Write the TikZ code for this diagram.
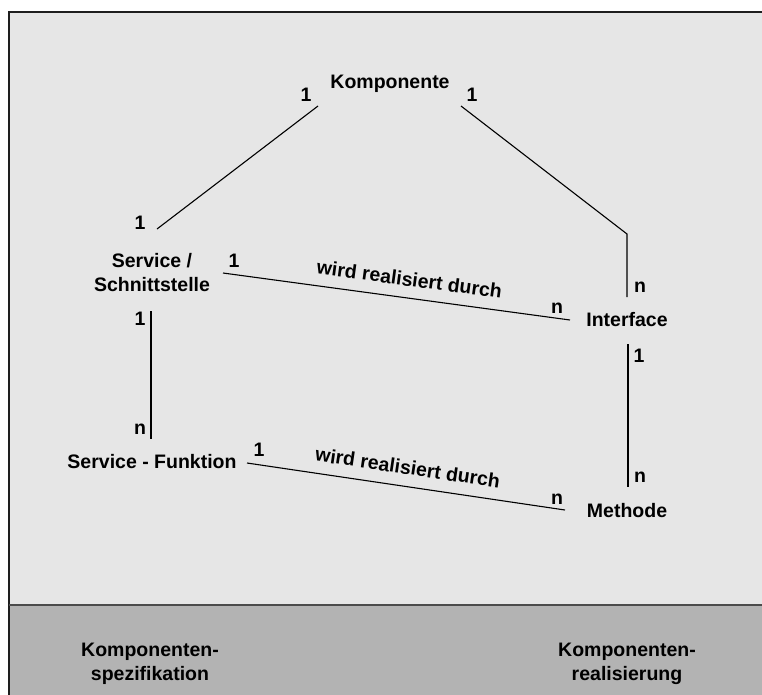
\documentclass[tikz,border=0pt]{standalone}
\usepackage{fontspec}
\setmainfont{Liberation Sans}
\definecolor{panel}{HTML}{E6E6E6}
\definecolor{band}{HTML}{B3B3B3}
\definecolor{rule}{HTML}{1E1E1E}
\begin{document}
\begin{tikzpicture}[x=1pt,y=-1pt,
  txt/.style={font=\bfseries\fontsize{19.5}{24}\selectfont, inner sep=0pt, anchor=base},
  entity/.style={txt, align=center},
  card/.style={txt},
  link/.style={line width=1.1pt, black},
  relation/.style={txt, sloped, anchor=base, yshift=12pt}]
\useasboundingbox (0,0) rectangle (762,694);
% background, panel and bottom band
\fill[white] (0,0) rectangle (762,694);
\fill[panel] (9,12) rectangle (770,605);
\fill[band] (9,605) rectangle (770,700);
\draw[rule, line width=1.6pt] (770,12) -- (9,12) -- (9,700);
\draw[rule!80, line width=1.6pt] (9,605) -- (770,605);

% entities (base anchor of a two-line node sits on its last line)
\node[entity] (komp) at (390,88) {Komponente};
\node[entity] (svc)  at (152,291) {Service /\\Schnittstelle};
\node[entity] (intf) at (627,326) {Interface};
\node[entity] (func) at (152,468) {Service - Funktion};
\node[entity] (meth) at (627,517) {Methode};

% connector end points
\coordinate (kl) at (318,106);
\coordinate (kr) at (461,106);
\coordinate (st) at (157,229);
\coordinate (ib) at (627,234);
\coordinate (it) at (627,297);
\coordinate (sr) at (223,273);
\coordinate (il) at (570,320);
\coordinate (iu) at (628,344);
\coordinate (mt) at (628,487);
\coordinate (sb) at (151,311);
\coordinate (ft) at (151,439);
\coordinate (fr) at (247,463);
\coordinate (ml) at (565,510);

% connectors
\draw[link] (kl) -- (st);
\draw[link] (kr) -- (ib) -- (it);
\draw[link] (sr) -- node[relation, pos=0.53] (r1) {wird realisiert durch} (il);
\draw[link] (iu) -- (mt);
\draw[link] (sb) -- (ft);
\draw[link] (fr) -- node[relation, pos=0.497] (r2) {wird realisiert durch} (ml);

% cardinalities
\node[card] (c1)  at (306,101) {1};
\node[card] (c2)  at (472,101) {1};
\node[card] (c3)  at (140,229) {1};
\node[card] (c4)  at (640,292) {n};
\node[card] (c5)  at (234,267) {1};
\node[card] (c6)  at (557,313) {n};
\node[card] (c7)  at (639,362) {1};
\node[card] (c8)  at (640,482) {n};
\node[card] (c9)  at (557,504) {n};
\node[card] (c10) at (140,325) {1};
\node[card] (c11) at (140,434) {n};
\node[card] (c12) at (259,456) {1};

% phase labels in the band
\node[entity] (spec) at (150,680) {Komponenten-\\spezifikation};
\node[entity] (real) at (627,680) {Komponenten-\\realisierung};
\end{tikzpicture}
\end{document}
